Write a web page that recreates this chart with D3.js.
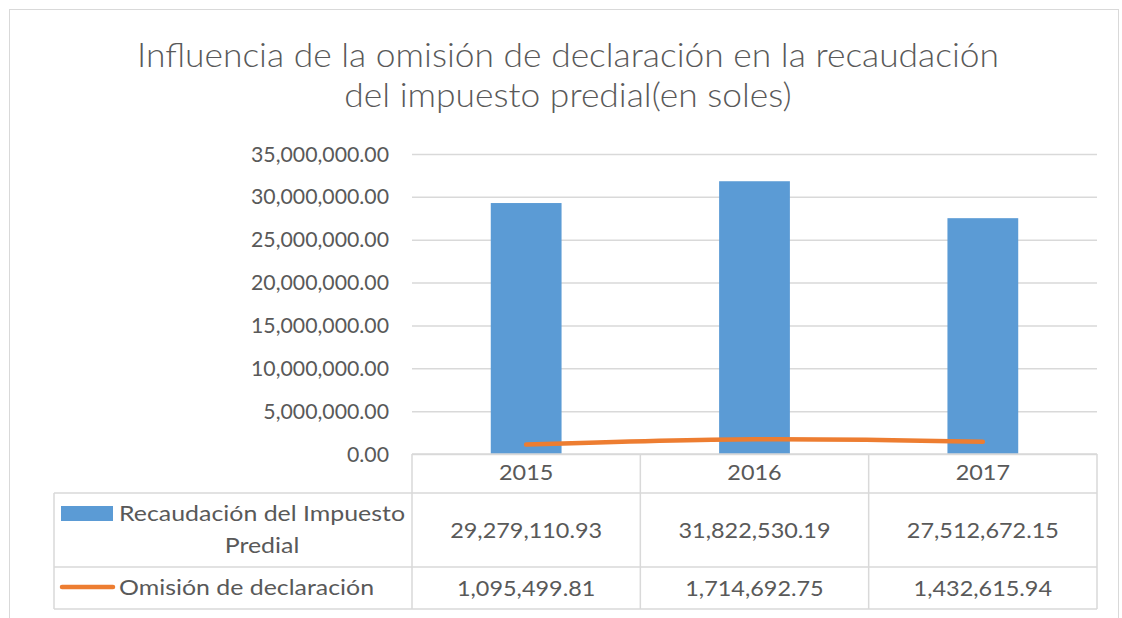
<!DOCTYPE html>
<html>
<head>
<meta charset="utf-8">
<script src="https://cdn.jsdelivr.net/npm/d3@7"></script>
<style>
    body { margin: 0; background: #fff; }
    text { font-family: Lato, 'Open Sans', sans-serif; fill: #595959; }
</style>
</head>
<body>
<svg id="chart" width="1122" height="618"></svg>
<script>
const titleLines = ['Influencia de la omisión de declaración en la recaudación', 'del impuesto predial(en soles)'];
const categories = ['2015', '2016', '2017'];
const recaudacion = [29279110.93, 31822530.19, 27512672.15];
const omision = [1095499.81, 1714692.75, 1432615.94];
const yTicks = [0, 5000000, 10000000, 15000000, 20000000, 25000000, 30000000, 35000000];
const seriesNames = ['Recaudación del Impuesto Predial', 'Omisión de declaración'];

const blue = '#5b9bd5';
const orange = '#ed7d31';
const gridColor = '#d9d9d9';

const plot = { left: 412, right: 1097, top: 154, bottom: 454 };
const tableLeft = 54;
const rowLines = [454, 493, 567, 609];

const svg = d3.select('#chart');
const fmt = d3.format(',.2f');

// squeeze text horizontally so it reads like the narrow Calibri of the original
function squeeze(sel, ratio) {
    sel.each(function () {
        const w = this.getComputedTextLength();
        this.setAttribute('textLength', w * ratio);
        this.setAttribute('lengthAdjust', 'spacingAndGlyphs');
    });
}
function ratioFor(sel, target) {
    return target / sel.node().getComputedTextLength();
}

svg.append('rect')
    .attr('x', 9.5).attr('y', 9.5)
    .attr('width', 1109).attr('height', 700)
    .attr('fill', '#fff')
    .attr('stroke', gridColor);

// title
const title = svg.append('g').selectAll('text')
    .data(titleLines)
    .join('text')
    .attr('x', 568)
    .attr('y', (d, i) => 67 + i * 40)
    .attr('text-anchor', 'middle')
    .style('font-size', '33px')
    .style('font-weight', 300)
    .text(d => d);
squeeze(title, ratioFor(title.filter((d, i) => i === 0), 862));

const x = d3.scaleBand().domain(categories).range([plot.left, plot.right]);
const y = d3.scaleLinear().domain([0, 35000000]).range([plot.bottom, plot.top]);

// gridlines
svg.append('g')
    .attr('transform', `translate(${plot.left},0)`)
    .call(d3.axisLeft(y).tickValues(yTicks).tickSize(-(plot.right - plot.left)).tickFormat(''))
    .call(g => g.select('.domain').remove())
    .call(g => g.selectAll('line').attr('stroke', gridColor).attr('stroke-width', 1.5));

// y labels
const yAxis = svg.append('g')
    .attr('transform', `translate(${plot.left},0)`)
    .call(d3.axisLeft(y).tickValues(yTicks).tickSize(0).tickPadding(23).tickFormat(fmt))
    .call(g => g.select('.domain').remove());
const yLabels = yAxis.selectAll('text')
    .attr('fill', '#595959')
    .style('font-family', 'Lato, sans-serif')
    .style('font-size', '22px');
squeeze(yLabels, ratioFor(yLabels.filter(d => d === 35000000), 138));

// bars
const barW = x.bandwidth() * 0.31;
svg.append('g').selectAll('rect')
    .data(recaudacion)
    .join('rect')
    .attr('x', (d, i) => x(categories[i]) + (x.bandwidth() - barW) / 2)
    .attr('y', d => y(d))
    .attr('width', barW)
    .attr('height', d => y(0) - y(d))
    .attr('fill', blue);

// line
svg.append('path')
    .datum(omision)
    .attr('fill', 'none')
    .attr('stroke', orange)
    .attr('stroke-width', 4.5)
    .attr('stroke-linecap', 'round')
    .attr('d', d3.line()
        .x((d, i) => x(categories[i]) + x.bandwidth() / 2)
        .y(d => y(d))
        .curve(d3.curveCatmullRom));

// data table
const table = svg.append('g')
    .attr('stroke', gridColor)
    .attr('stroke-width', 1.5);
table.append('line')
    .attr('x1', plot.left).attr('x2', plot.right)
    .attr('y1', rowLines[0]).attr('y2', rowLines[0]);
rowLines.slice(1).forEach(ry => {
    table.append('line')
        .attr('x1', tableLeft).attr('x2', plot.right)
        .attr('y1', ry).attr('y2', ry);
});
table.append('line')
    .attr('x1', tableLeft).attr('x2', tableLeft)
    .attr('y1', rowLines[1]).attr('y2', rowLines[3]);
categories.concat(['end']).forEach((c, i) => {
    const cx = i < categories.length ? x(c) : plot.right;
    table.append('line')
        .attr('x1', cx).attr('x2', cx)
        .attr('y1', rowLines[0]).attr('y2', rowLines[3]);
});

const cellText = svg.append('g').style('font-size', '22px').attr('text-anchor', 'middle');
const catLabels = cellText.selectAll('text.cat')
    .data(categories)
    .join('text')
    .attr('class', 'cat')
    .attr('x', d => x(d) + x.bandwidth() / 2)
    .attr('y', 480)
    .text(d => d);
const row1 = cellText.selectAll('text.r1')
    .data(recaudacion)
    .join('text')
    .attr('class', 'r1')
    .attr('x', (d, i) => x(categories[i]) + x.bandwidth() / 2)
    .attr('y', 538)
    .text(d => fmt(d));
const row2 = cellText.selectAll('text.r2')
    .data(omision)
    .join('text')
    .attr('class', 'r2')
    .attr('x', (d, i) => x(categories[i]) + x.bandwidth() / 2)
    .attr('y', 596)
    .text(d => fmt(d));
const tableRatio = ratioFor(row1.filter((d, i) => i === 0), 152);
squeeze(catLabels, tableRatio);
squeeze(row1, tableRatio);
squeeze(row2, tableRatio);

// legend keys and row headers
svg.append('rect')
    .attr('x', 61).attr('y', 506)
    .attr('width', 52).attr('height', 15)
    .attr('fill', blue);
svg.append('line')
    .attr('x1', 62).attr('x2', 113)
    .attr('y1', 587).attr('y2', 587)
    .attr('stroke', orange)
    .attr('stroke-width', 4.5)
    .attr('stroke-linecap', 'round');

const words = seriesNames[0].split(' ');
const head = svg.append('g').style('font-size', '22px');
const h1 = head.append('text')
    .attr('x', 119).attr('y', 521)
    .text(words.slice(0, 3).join(' '));
const h2 = head.append('text')
    .attr('x', 262).attr('y', 553)
    .attr('text-anchor', 'middle')
    .text(words.slice(3).join(' '));
const h3 = head.append('text')
    .attr('x', 119).attr('y', 595)
    .text(seriesNames[1]);
squeeze(head.selectAll('text'), ratioFor(h1, 286));
</script>
</body>
</html>
